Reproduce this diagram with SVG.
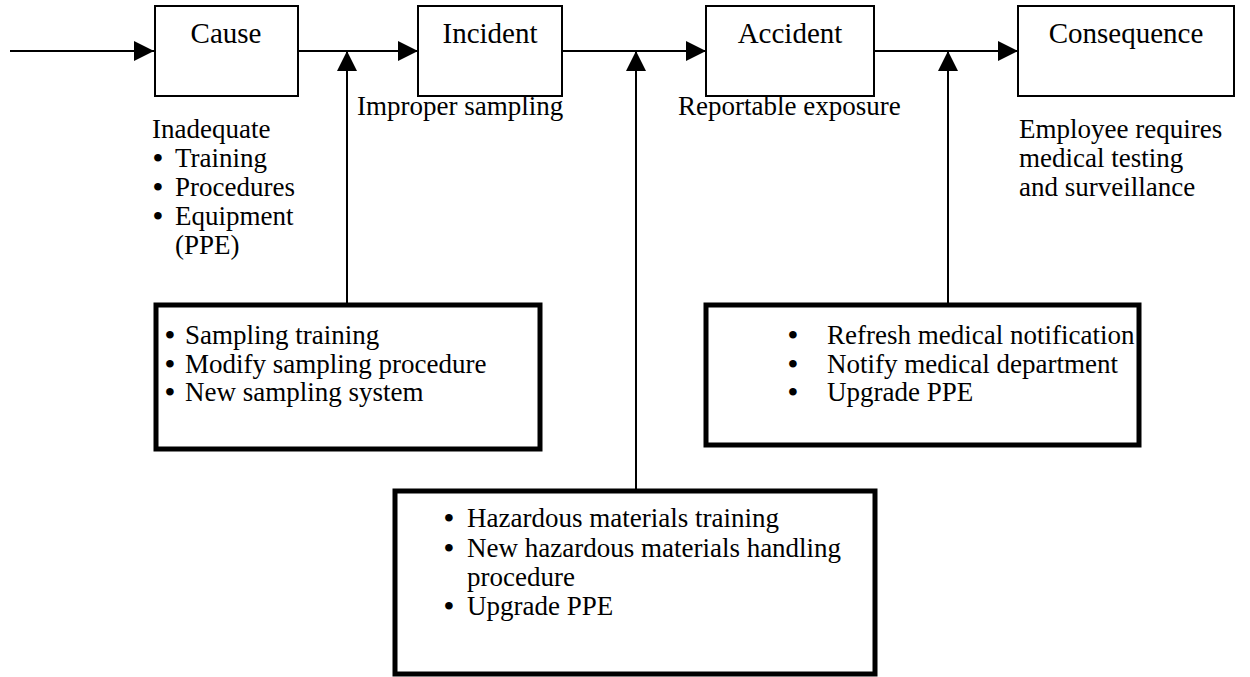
<svg xmlns="http://www.w3.org/2000/svg" width="1250" height="677" viewBox="0 0 1250 677">
<defs>
<style>
text{font-family:"Liberation Serif","Times New Roman",Times,serif;fill:#000;}
.lbl{font-size:29px;text-anchor:middle;}
.t{font-size:27px;}
.b{font-size:28px;text-anchor:middle;font-weight:bold;}
.node{fill:#fff;stroke:#000;stroke-width:2;}
.ctl{fill:#fff;stroke:#000;stroke-width:5;}
.ln{stroke:#000;stroke-width:2;fill:none;}
</style>
<marker id="ah" viewBox="0 0 20 20" refX="20" refY="10" markerWidth="20" markerHeight="20" markerUnits="userSpaceOnUse" orient="auto">
<path d="M0,0 L20,10 L0,20 Z" fill="#000"/>
</marker>
</defs>
<g id="connectors">
<line class="ln" x1="10" y1="51" x2="154" y2="51" marker-end="url(#ah)"/>
<line class="ln" x1="298" y1="51" x2="418" y2="51" marker-end="url(#ah)"/>
<line class="ln" x1="562" y1="51" x2="706" y2="51" marker-end="url(#ah)"/>
<line class="ln" x1="874" y1="51" x2="1018" y2="51" marker-end="url(#ah)"/>
<line class="ln" x1="347" y1="305" x2="347" y2="51" marker-end="url(#ah)"/>
<line class="ln" x1="636" y1="491" x2="636" y2="51" marker-end="url(#ah)"/>
<line class="ln" x1="948" y1="305" x2="948" y2="51" marker-end="url(#ah)"/>
</g>
<g id="cause">
<rect class="node" x="155" y="6" width="143" height="90"/>
<text class="lbl" x="226" y="43">Cause</text>
<text class="t" x="152" y="138">Inadequate</text>
<text class="b" x="158" y="167">•</text><text class="t" x="175" y="167">Training</text>
<text class="b" x="158" y="196">•</text><text class="t" x="175" y="196">Procedures</text>
<text class="b" x="158" y="225">•</text><text class="t" x="175" y="225">Equipment</text>
<text class="t" x="175" y="254">(PPE)</text>
</g>
<g id="incident">
<rect class="node" x="418" y="6" width="144" height="90"/>
<text class="lbl" x="490" y="43">Incident</text>
<text class="t" x="357" y="115">Improper sampling</text>
</g>
<g id="accident">
<rect class="node" x="706" y="6" width="168" height="90"/>
<text class="lbl" x="790" y="43">Accident</text>
<text class="t" x="678" y="115">Reportable exposure</text>
</g>
<g id="consequence">
<rect class="node" x="1018" y="6" width="216" height="90"/>
<text class="lbl" x="1126" y="43">Consequence</text>
<text class="t" x="1019" y="138">Employee requires</text>
<text class="t" x="1019" y="167">medical testing</text>
<text class="t" x="1019" y="196">and surveillance</text>
</g>
<g id="control1">
<rect class="ctl" x="156" y="305" width="384" height="144"/>
<text class="b" x="170" y="344">•</text><text class="t" x="185" y="344">Sampling training</text>
<text class="b" x="170" y="373">•</text><text class="t" x="185" y="373">Modify sampling procedure</text>
<text class="b" x="170" y="401">•</text><text class="t" x="185" y="401">New sampling system</text>
</g>
<g id="control2">
<rect class="ctl" x="706" y="305" width="433" height="140"/>
<text class="b" x="793" y="344">•</text><text class="t" x="827" y="344">Refresh medical notification</text>
<text class="b" x="793" y="373">•</text><text class="t" x="827" y="373">Notify medical department</text>
<text class="b" x="793" y="401">•</text><text class="t" x="827" y="401">Upgrade PPE</text>
</g>
<g id="control3">
<rect class="ctl" x="395" y="491" width="480" height="183"/>
<text class="b" x="449" y="527">•</text><text class="t" x="467" y="527">Hazardous materials training</text>
<text class="b" x="449" y="557">•</text><text class="t" x="467" y="557">New hazardous materials handling</text>
<text class="t" x="467" y="586">procedure</text>
<text class="b" x="449" y="615">•</text><text class="t" x="467" y="615">Upgrade PPE</text>
</g>
</svg>
